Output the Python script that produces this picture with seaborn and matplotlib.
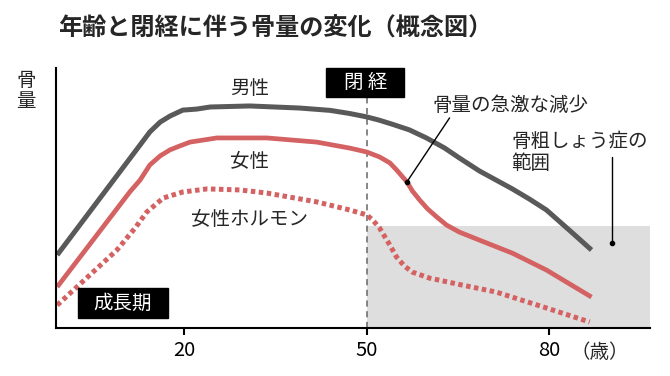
"""
Bone mass vs age and menopause (concept chart)
"""
import numpy as np
import pandas as pd
import seaborn as sns
import matplotlib.pyplot as plt
from matplotlib.patches import Rectangle

# values (age, relative bone mass 0-100)
men_age = [-0.8, 12.8, 14.4, 16.1, 17.7, 19.8, 22.1, 24.3, 30.8, 39.0, 44.0, 47.2, 50.0,
           52.1, 54.3, 57.0, 59.8, 62.8, 65.2, 68.5, 73.9, 76.7, 79.5, 83.8, 86.9]
men_val = [28.1, 70.4, 75.4, 79.2, 81.5, 83.8, 84.2, 85.0, 85.4, 84.6, 83.7, 82.5, 81.2,
           79.9, 78.3, 76.2, 73.1, 69.2, 65.4, 60.4, 53.5, 49.6, 45.4, 36.5, 30.0]

women_age = [-0.8, 11.1, 12.8, 14.4, 16.1, 17.7, 19.3, 21.0, 25.4, 33.6, 41.8, 47.2, 50.0,
             52.1, 53.8, 54.9, 56.6, 57.5, 58.7, 60.0, 61.5, 63.1, 65.2, 68.5, 73.9, 79.5, 86.9]
women_val = [15.8, 52.3, 56.9, 62.7, 66.2, 68.5, 70.0, 71.5, 73.1, 73.1, 71.5, 69.2, 67.7,
             65.8, 63.5, 60.8, 56.2, 52.7, 49.2, 45.8, 42.7, 39.6, 36.9, 33.8, 28.8, 22.3, 11.9]

hormone_age = [-0.8, 9.0, 12.0, 13.9, 16.6, 19.8, 23.8, 29.2, 33.6, 41.8, 47.2, 50.0, 51.0,
               52.1, 53.8, 54.9, 56.2, 57.5, 60.3, 65.7, 71.3, 79.5, 86.6]
hormone_val = [8.8, 30.0, 38.5, 44.6, 50.0, 52.3, 53.5, 53.1, 51.9, 48.5, 45.4, 43.5, 41.5,
               38.5, 31.9, 27.3, 23.8, 21.5, 19.2, 16.5, 13.8, 7.7, 2.3]

menopause_age = 50
osteo_level = 39.2
x_ticks = [20, 50, 80]
x_range = (-1, 96.5)

GRAY = "#595959"
RED = "#d46262"

sns.set_style("white")
plt.rcParams["font.family"] = ["Noto Sans CJK JP", "DejaVu Sans"]

fig = plt.figure(figsize=(6.7, 3.76), dpi=100)
ax = fig.add_axes([56 / 670, 48 / 376, 594 / 670, 260 / 376])

df = pd.concat([
    pd.DataFrame({"age": men_age, "val": men_val, "grp": "男性"}),
    pd.DataFrame({"age": women_age, "val": women_val, "grp": "女性"}),
    pd.DataFrame({"age": hormone_age, "val": hormone_val, "grp": "女性ホルモン"}),
])

# osteoporosis zone
ax.fill_between([menopause_age, x_range[1]], 0, osteo_level, color="#dedede", lw=0, zorder=0)
ax.vlines(menopause_age, 0, 88.8, colors="#666666", lw=1.1, linestyles=(0, (4, 3)), zorder=1)

sns.lineplot(data=df[df.grp == "男性"], x="age", y="val", color=GRAY, lw=3.6,
             sort=False, estimator=None, ax=ax, solid_capstyle="butt", solid_joinstyle="round")
sns.lineplot(data=df[df.grp == "女性"], x="age", y="val", color=RED, lw=3.4,
             sort=False, estimator=None, ax=ax, solid_capstyle="butt", solid_joinstyle="round")
sns.lineplot(data=df[df.grp == "女性ホルモン"], x="age", y="val", color=RED, lw=3.6,
             linestyle=(0, (0.9, 0.7)), dash_capstyle="butt",
             sort=False, estimator=None, ax=ax)

ax.set_xlim(*x_range)
ax.set_ylim(0, 100)
ax.set_xticks(x_ticks)
ax.set_yticks([])
ax.set_xlabel("")
ax.set_ylabel("")
sns.despine(ax=ax)
for s in ["left", "bottom"]:
    ax.spines[s].set_linewidth(1.5)
    ax.spines[s].set_color("black")
ax.tick_params(axis="x", bottom=True, direction="out", length=5, width=1.5, pad=4,
               labelsize=14.5, colors="black")

fs = 14
ax.text(30.8, 92.3, "男性", ha="center", va="center", fontsize=fs)
ax.text(30.8, 64.2, "女性", ha="center", va="center", fontsize=fs)
ax.text(30.8, 41.9, "女性ホルモン", ha="center", va="center", fontsize=fs)

# black label boxes
ax.add_patch(Rectangle((43.4, 88.8), 12.8, 11.2, color="black", clip_on=False, zorder=3))
ax.text(49.8, 94.4, "閉 経", ha="center", va="center", fontsize=fs, color="white", zorder=4)
ax.add_patch(Rectangle((2.6, 3.8), 14.8, 11.6, color="black", clip_on=False, zorder=3))
ax.text(10.0, 9.6, "成長期", ha="center", va="center", fontsize=fs, color="white", zorder=4)

# annotations
ax.text(60.8, 85.4, "骨量の急激な減少", ha="left", va="center", fontsize=fs)
ax.plot([63.6, 56.6], [80.8, 56.2], color="black", lw=1)
ax.plot([56.6], [56.2], "o", color="black", ms=3)
ax.text(73.8, 75.8, "骨粗しょう症の\n範囲", ha="left", va="top", fontsize=fs, linespacing=1.05)
ax.plot([90.3, 90.3], [65.8, 32.7], color="black", lw=1)
ax.plot([90.3], [32.7], "o", color="black", ms=3)
ax.text(88.3, -9.4, "（歳）", ha="center", va="center", fontsize=fs, clip_on=False)

fig.text(26 / 670, 1 - 91 / 376, "骨\n量", ha="center", va="center", fontsize=fs, linespacing=1.0)
fig.text(58 / 670, 1 - 29 / 376, "年齢と閉経に伴う骨量の変化（概念図）", ha="left", va="center",
         fontsize=17.4, fontweight="bold")

fig.savefig("out.png", dpi=100)
